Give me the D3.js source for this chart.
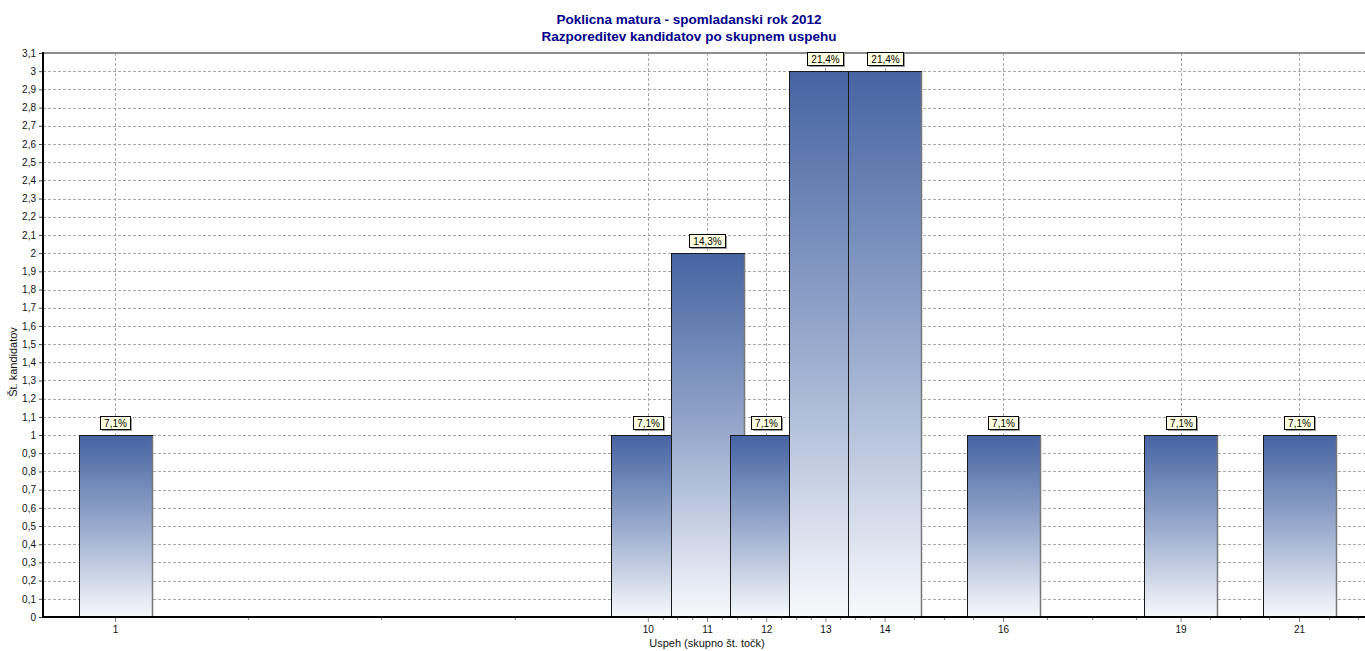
<!DOCTYPE html>
<html>
<head>
<meta charset="utf-8">
<script src="https://cdn.jsdelivr.net/npm/d3@7"></script>
<style>
  body { margin: 0; background: #fff; }
  svg { display: block; font-family: "Liberation Sans", Arial, sans-serif; }
</style>
</head>
<body>
<div class="vis-barchart"></div>
<script>
// data
const categories = [1, 10, 11, 12, 13, 14, 16, 19, 21];
const counts = [1, 1, 2, 1, 3, 3, 1, 1, 1];
const percentLabels = ["7,1%", "7,1%", "14,3%", "7,1%", "21,4%", "21,4%", "7,1%", "7,1%", "7,1%"];
const yTicks = d3.range(0, 32).map(i => i / 10);
const titleLines = ["Poklicna matura - spomladanski rok 2012", "Razporeditev kandidatov po skupnem uspehu"];

const W = 1365, H = 651;
const plot = {left: 43, top: 53, right: 1366, bottom: 617};
const barUnits = 1.233;

const svg = d3.select('.vis-barchart').append('svg')
    .attr('width', W)
    .attr('height', H);

const x = d3.scaleLinear().domain([1, 21]).range([115, 1299]);
const y = d3.scaleLinear().domain([0, 3.1]).range([plot.bottom, plot.top]);
const fmt = v => d3.format('.1~f')(v).replace('.', ',');

// gradient for the bars
const defs = svg.append('defs');
const grad = defs.append('linearGradient')
    .attr('id', 'barGrad')
    .attr('x1', 0).attr('y1', 0).attr('x2', 0).attr('y2', 1);
grad.append('stop').attr('offset', '0%').attr('stop-color', '#4664a2');
grad.append('stop').attr('offset', '50%').attr('stop-color', '#98aacd');
grad.append('stop').attr('offset', '100%').attr('stop-color', '#f8f9fc');

// horizontal grid
svg.append('g')
    .selectAll('line')
    .data(yTicks.filter(d => d > 0))
    .enter().append('line')
    .attr('x1', plot.left).attr('x2', plot.right)
    .attr('y1', d => Math.round(y(d)) + 0.5)
    .attr('y2', d => Math.round(y(d)) + 0.5)
    .attr('stroke', '#a8a8a8')
    .attr('stroke-dasharray', '3,2');

// vertical grid at categories
svg.append('g')
    .selectAll('line')
    .data(categories)
    .enter().append('line')
    .attr('x1', d => Math.round(x(d)) + 0.5).attr('x2', d => Math.round(x(d)) + 0.5)
    .attr('y1', plot.top).attr('y2', plot.bottom)
    .attr('stroke', '#a8a8a8')
    .attr('stroke-dasharray', '3,2');

// top frame line
svg.append('line')
    .attr('x1', plot.left).attr('x2', plot.right)
    .attr('y1', plot.top).attr('y2', plot.top)
    .attr('stroke', '#8c8c8c')
    .attr('stroke-width', 2);

// bars, drawn left to right so later ones cover earlier ones
const half = (x(1 + barUnits) - x(1)) / 2;
const bars = svg.append('g')
    .selectAll('g')
    .data(categories.map((c, i) => ({c: c, v: counts[i], lab: percentLabels[i]})))
    .enter().append('g');

bars.append('rect')
    .attr('x', d => Math.round(x(d.c) - half) + 0.5)
    .attr('y', d => Math.round(y(d.v)) + 0.5)
    .attr('width', Math.round(half * 2))
    .attr('height', d => Math.round(y(0)) - Math.round(y(d.v)))
    .attr('fill', 'url(#barGrad)')
    .attr('stroke', '#1a1a1a')
    .attr('stroke-width', 1);

bars.append('line')
    .attr('x1', d => Math.round(x(d.c) - half) + Math.round(half * 2) + 0.5)
    .attr('x2', d => Math.round(x(d.c) - half) + Math.round(half * 2) + 0.5)
    .attr('y1', d => Math.round(y(d.v)) + 1)
    .attr('y2', plot.bottom)
    .attr('stroke', '#777')
    .attr('stroke-width', 1.5);

// value labels
const labG = svg.append('g')
    .selectAll('g')
    .data(categories.map((c, i) => ({c: c, v: counts[i], lab: percentLabels[i]})))
    .enter().append('g')
    .attr('transform', d => 'translate(' + Math.round(x(d.c)) + ',' + (Math.round(y(d.v)) - 6) + ')');

labG.each(function(d) {
    const g = d3.select(this);
    const w = d.lab.length > 4 ? 36 : 30;
    g.append('rect')
        .attr('x', -w / 2 + 2).attr('y', -11)
        .attr('width', w).attr('height', 13)
        .attr('fill', '#9a9a9a');
    g.append('rect')
        .attr('x', -w / 2 + 0.5).attr('y', -12.5)
        .attr('width', w).attr('height', 13)
        .attr('fill', '#ffffe1')
        .attr('stroke', '#000');
    g.append('text')
        .attr('x', 0.5).attr('y', -2.5)
        .attr('text-anchor', 'middle')
        .attr('font-size', '10px')
        .attr('fill', '#000')
        .text(d.lab);
});

// y axis
const yAxis = svg.append('g')
    .attr('transform', 'translate(' + plot.left + ',0)')
    .call(d3.axisLeft(y).tickValues(yTicks).tickFormat(fmt).tickSize(4).tickPadding(3));
yAxis.select('.domain').remove();
yAxis.selectAll('.tick line').attr('stroke', '#444');
yAxis.selectAll('text').attr('font-size', '10px').attr('fill', '#111')
    .attr('font-family', '"Liberation Sans", Arial, sans-serif');
svg.append('line')
    .attr('x1', plot.left).attr('x2', plot.left)
    .attr('y1', plot.top - 1).attr('y2', plot.bottom + 1)
    .attr('stroke', '#000').attr('stroke-width', 2);

// x axis: minor ticks split each gap between labelled ticks in quarters
const minorTicks = [];
for (let i = 0; i < categories.length - 1; i++) {
    const a = categories[i], b = categories[i + 1];
    for (let k = 1; k < 4; k++) minorTicks.push(a + (b - a) * k / 4);
}
minorTicks.push(21.5, 22);

svg.append('g')
    .selectAll('line')
    .data(minorTicks)
    .enter().append('line')
    .attr('x1', d => Math.round(x(d)) + 0.5).attr('x2', d => Math.round(x(d)) + 0.5)
    .attr('y1', plot.bottom).attr('y2', plot.bottom + 3)
    .attr('stroke', '#888');

const xAxis = svg.append('g')
    .attr('transform', 'translate(0,' + plot.bottom + ')')
    .call(d3.axisBottom(x).tickValues(categories).tickFormat(d3.format('d')).tickSize(5).tickPadding(4));
xAxis.select('.domain').remove();
xAxis.selectAll('.tick line').attr('stroke', '#888');
xAxis.selectAll('text').attr('font-size', '10px').attr('fill', '#111')
    .attr('font-family', '"Liberation Sans", Arial, sans-serif');
svg.append('line')
    .attr('x1', plot.left - 1).attr('x2', plot.right)
    .attr('y1', plot.bottom).attr('y2', plot.bottom)
    .attr('stroke', '#000').attr('stroke-width', 2);

// axis titles
svg.append('text')
    .attr('x', 707).attr('y', 647)
    .attr('text-anchor', 'middle')
    .attr('font-size', '11px')
    .attr('fill', '#111')
    .text('Uspeh (skupno št. točk)');

svg.append('text')
    .attr('transform', 'translate(17,362) rotate(-90)')
    .attr('text-anchor', 'middle')
    .attr('font-size', '11px')
    .attr('fill', '#111')
    .text('Št. kandidatov');

// title
svg.append('g')
    .selectAll('text')
    .data(titleLines)
    .enter().append('text')
    .attr('x', 689)
    .attr('y', (d, i) => 24 + i * 17)
    .attr('text-anchor', 'middle')
    .attr('font-size', '13.5px')
    .attr('font-weight', 'bold')
    .attr('fill', '#00008b')
    .text(d => d);
</script>
</body>
</html>
